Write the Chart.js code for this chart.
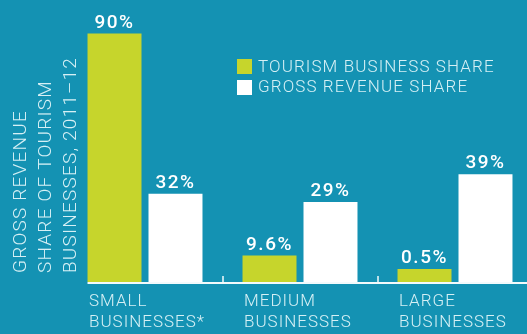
<!DOCTYPE html>
<html>
<head>
<meta charset="utf-8">
<script src="https://cdn.jsdelivr.net/npm/chart.js@4"></script>
<style>
  html, body { margin: 0; padding: 0; background: #1492b3; overflow: hidden; }
  canvas { display: block; }
</style>
</head>
<body>
<canvas id="sizeChart" width="540" height="334"></canvas>
<script>
const categories = [['SMALL', 'BUSINESSES*'], ['MEDIUM', 'BUSINESSES'], ['LARGE', 'BUSINESSES']];
const tourismShare = [90, 9.6, 0.5];
const revenueShare = [32, 29, 39];
const seriesNames = ['TOURISM BUSINESS SHARE', 'GROSS REVENUE SHARE'];
const axisTitle = ['GROSS REVENUE', 'SHARE OF TOURISM', 'BUSINESSES, 2011–12'];

const GREEN = '#c6d52c';
const WHITE = '#ffffff';
const PALE = '#d6f0f5';
const FONT = 'Roboto, "Open Sans", sans-serif';

// tracking for the tick labels drawn by the x scale
const spacing = {
  id: 'spacing',
  beforeDraw(chart) { chart.ctx.letterSpacing = '1px'; }
};

// white baseline from the first bar to the edge, with small marks between groups
const baseline = {
  id: 'baseline',
  afterDatasetsDraw(chart) {
    const { ctx, chartArea, scales: { x } } = chart;
    const first = chart.getDatasetMeta(0).data[0];
    const left = first.x - first.width / 2;
    ctx.save();
    ctx.strokeStyle = '#f2fafc';
    ctx.lineWidth = 2;
    ctx.beginPath();
    ctx.moveTo(left, chartArea.bottom + 1);
    ctx.lineTo(chart.width, chartArea.bottom + 1);
    ctx.stroke();
    ctx.lineWidth = 1.5;
    ctx.beginPath();
    for (let i = 0; i < categories.length - 1; i++) {
      const mid = Math.round((x.getPixelForValue(i) + x.getPixelForValue(i + 1)) / 2);
      ctx.moveTo(mid, chartArea.bottom);
      ctx.lineTo(mid, chartArea.bottom - 6);
    }
    ctx.stroke();
    ctx.restore();
  }
};

// percentages above each bar
const valueLabels = {
  id: 'valueLabels',
  afterDatasetsDraw(chart) {
    const ctx = chart.ctx;
    ctx.save();
    ctx.font = `500 19px ${FONT}`;
    ctx.letterSpacing = '1.5px';
    ctx.fillStyle = WHITE;
    ctx.textAlign = 'center';
    ctx.textBaseline = 'alphabetic';
    chart.data.datasets.forEach((ds, d) => {
      chart.getDatasetMeta(d).data.forEach((bar, i) => {
        ctx.fillText(ds.data[i] + '%', bar.x, bar.y - 6);
      });
    });
    ctx.restore();
  }
};

// legend inside the plot, upper right
const legendBox = {
  id: 'legendBox',
  afterDraw(chart) {
    const ctx = chart.ctx;
    const boxes = [59, 80];
    const rows = [68, 88];
    ctx.save();
    ctx.font = `300 17px ${FONT}`;
    ctx.letterSpacing = '1.1px';
    ctx.textBaseline = 'middle';
    chart.data.datasets.forEach((ds, d) => {
      ctx.fillStyle = ds.backgroundColor;
      ctx.fillRect(237, boxes[d], 15, 15);
      ctx.fillStyle = PALE;
      ctx.fillText(ds.label, 258, rows[d]);
    });
    ctx.restore();
  }
};

// three-line rotated title on the left
const sideTitle = {
  id: 'sideTitle',
  afterDraw(chart) {
    const ctx = chart.ctx;
    ctx.save();
    ctx.font = `300 19px ${FONT}`;
    ctx.letterSpacing = '1.2px';
    ctx.fillStyle = PALE;
    ctx.textAlign = 'left';
    ctx.textBaseline = 'middle';
    [21.5, 46.5, 71].forEach((x, i) => {
      ctx.save();
      ctx.translate(x, 273);
      ctx.rotate(-Math.PI / 2);
      ctx.fillText(axisTitle[i], 0, 0);
      ctx.restore();
    });
    ctx.restore();
  }
};

new Chart(document.getElementById('sizeChart'), {
  type: 'bar',
  data: {
    labels: categories,
    datasets: [
      { label: seriesNames[0], data: tourismShare, backgroundColor: GREEN, minBarLength: 13 },
      { label: seriesNames[1], data: revenueShare, backgroundColor: WHITE }
    ]
  },
  options: {
    responsive: false,
    animation: false,
    layout: { padding: { left: 67.5, right: 7.5, top: 6, bottom: 0 } },
    datasets: { bar: { categoryPercentage: 0.787, barPercentage: 0.885 } },
    scales: {
      x: {
        grid: { display: false, drawTicks: false },
        border: { display: false },
        // left-aligned labels would otherwise reserve room on the right
        afterFit(scale) {
          scale.paddingLeft = 0;
          scale.paddingRight = 0;
          scale.height = 52;
        },
        ticks: {
          color: PALE,
          font: { family: FONT, size: 17, weight: 300, lineHeight: 1.27 },
          padding: 8.5,
          align: 'start',
          labelOffset: -56,
          maxRotation: 0,
          autoSkip: false
        }
      },
      y: { display: false, min: 0, max: 100 }
    },
    plugins: { legend: { display: false }, tooltip: { enabled: false } }
  },
  plugins: [spacing, baseline, valueLabels, legendBox, sideTitle]
});
</script>
</body>
</html>
